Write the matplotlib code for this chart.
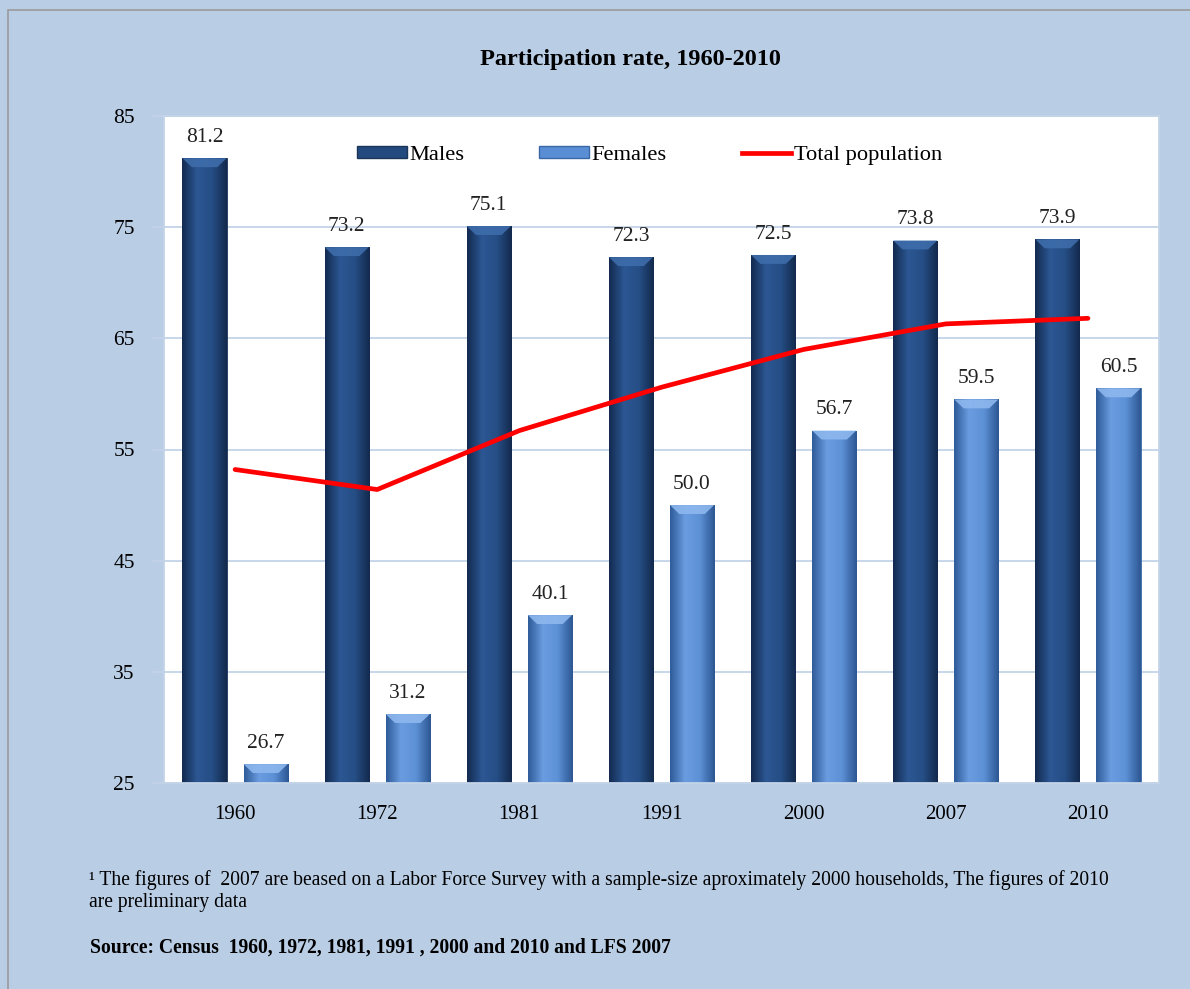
import numpy as np
import matplotlib
matplotlib.use('Agg')
from matplotlib import pyplot as plt
from matplotlib.colors import LinearSegmentedColormap
from matplotlib.patches import Patch, Polygon, Rectangle
from matplotlib.lines import Line2D

plt.rcParams['font.family'] = ['Liberation Serif', 'DejaVu Serif']

years = ['1960', '1972', '1981', '1991', '2000', '2007', '2010']
males = [81.2, 73.2, 75.1, 72.3, 72.5, 73.8, 73.9]
females = [26.7, 31.2, 40.1, 50.0, 56.7, 59.5, 60.5]
total = [53.2, 51.4, 56.7, 60.6, 64.0, 66.3, 66.8]
y_ticks = [25, 35, 45, 55, 65, 75, 85]

title = 'Participation rate, 1960-2010'
note1 = ('\u00b9 The figures of  2007 are beased on a Labor Force Survey with a '
         'sample-size aproximately 2000 households, The figures of 2010')
note2 = 'are preliminary data'
source = 'Source: Census  1960, 1972, 1981, 1991 , 2000 and 2010 and LFS 2007'

BG = '#B9CDE5'
GRID = '#C3D3E8'
MALE = '#234A7E'
FEMALE = '#5A8ED4'

fig = plt.figure(figsize=(11.9, 9.89), dpi=100)
fig.patch.set_facecolor(BG)
# thin grey frame at top/left like the original snapshot
fig.add_artist(Rectangle((8 / 1190, -0.01), 1.02, 1 - 10 / 989 + 0.01,
                         transform=fig.transFigure, fill=False,
                         edgecolor='#9A9A9A', linewidth=1.2))

ax = fig.add_axes([164 / 1190, 1 - 783 / 989, 995 / 1190, 667 / 989])
ax.set_facecolor('white')

x = np.arange(len(years))
w = 0.31
off = 0.215

male_cmap = LinearSegmentedColormap.from_list('m', ['#132B50', '#2C5793', '#264E86', '#132A4D'])
fem_cmap = LinearSegmentedColormap.from_list('f', ['#2F5C9A', '#6A9CE0', '#5D91D6', '#2D5793'])
grad = np.linspace(0, 1, 64).reshape(1, -1)

bars_m = ax.bar(x - off, np.array(males) - 25, w, bottom=25, color=MALE,
                edgecolor='#1A3558', linewidth=0.6, zorder=2)
bars_f = ax.bar(x + off, np.array(females) - 25, w, bottom=25, color=FEMALE,
                edgecolor='#3A68A6', linewidth=0.6, zorder=2)

for bars, cmap, bevel in [(bars_m, male_cmap, '#3E6DAB'), (bars_f, fem_cmap, '#8DB7EE')]:
    for b in bars:
        x0, y0 = b.get_x(), b.get_y()
        bw, bh = b.get_width(), b.get_height()
        im = ax.imshow(grad, cmap=cmap, aspect='auto', extent=(x0, x0 + bw, y0, y0 + bh),
                       zorder=2.5, interpolation='bicubic')
        im.set_clip_path(b)
        top = y0 + bh
        bv = min(0.8, bh * 0.5)
        ins = 0.065
        ax.add_patch(Polygon([(x0, top), (x0 + bw, top), (x0 + bw - ins, top - bv),
                              (x0 + ins, top - bv)], closed=True, facecolor=bevel,
                             edgecolor='none', alpha=0.9, zorder=2.6))

for bars, vals in [(bars_m, males), (bars_f, females)]:
    for b, v in zip(bars, vals):
        ax.annotate(f'{v:.1f}', (b.get_x() + b.get_width() / 2, v), xytext=(0, 8),
                    textcoords='offset points', ha='center', va='bottom',
                    fontsize=15.5, color='#222222', zorder=4)

ax.plot(x, total, color='#FF0000', linewidth=3.4, solid_capstyle='round', zorder=3)

ax.set_xlim(-0.5, len(years) - 0.5)
ax.set_ylim(25, 85)
ax.set_yticks(y_ticks)
ax.set_xticks(x)
ax.set_xticklabels(years)
ax.tick_params(axis='y', length=9, color=GRID, width=1.2, pad=12, labelsize=15.5)
ax.tick_params(axis='x', length=0, pad=16, labelsize=15)
ax.yaxis.grid(True, color=GRID, linewidth=1.3, zorder=0)
ax.set_axisbelow(True)
for s in ax.spines.values():
    s.set_color(GRID)
    s.set_linewidth(1.3)

handles = [Patch(facecolor=MALE, edgecolor='#1A3558'),
           Patch(facecolor=FEMALE, edgecolor='#3A68A6'),
           Line2D([0], [0], color='#FF0000', linewidth=3.4)]
leg = ax.legend(handles, ['Males', 'Females', 'Total population'], loc='upper center',
                bbox_to_anchor=(0.488, 0.985), ncol=3, frameon=False, fontsize=16.2,
                handlelength=2.2, handleheight=0.45, handletextpad=0.1, columnspacing=3.35)

fig.text(630 / 1190, 1 - 60 / 989, title, ha='center', va='center',
         fontsize=17.5, fontweight='bold')
fig.text(89 / 1190, 1 - 880 / 989, note1, ha='left', va='center', fontsize=14.1)
fig.text(89 / 1190, 1 - 903 / 989, note2, ha='left', va='center', fontsize=14.1)
fig.text(90 / 1190, 1 - 948 / 989, source, ha='left', va='center', fontsize=14.1,
         fontweight='bold')

fig.savefig('out.png', dpi=100, facecolor=fig.get_facecolor())
